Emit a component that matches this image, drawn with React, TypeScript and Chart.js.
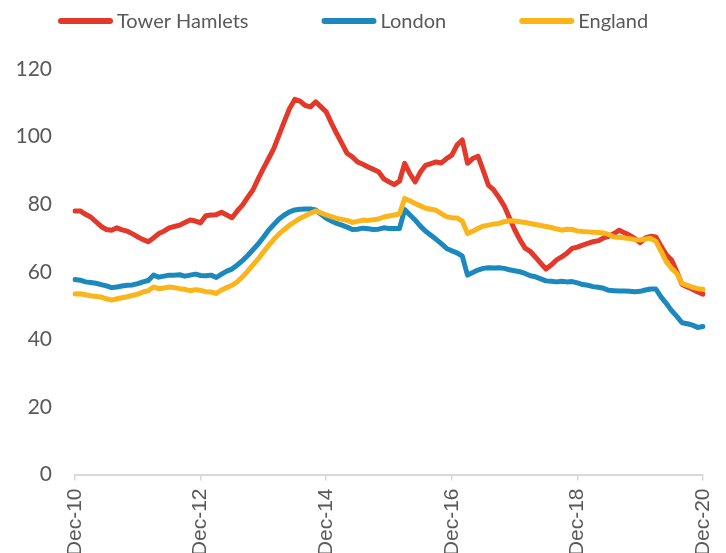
import React, { useEffect, useRef } from 'react';
import { Chart, registerables } from 'chart.js';

Chart.register(...registerables);

const MONTH_NAMES = ['Jan', 'Feb', 'Mar', 'Apr', 'May', 'Jun', 'Jul', 'Aug', 'Sep', 'Oct', 'Nov', 'Dec'];

// Monthly categories Dec-10 .. Dec-20
const CATEGORIES: string[] = (() => {
  const out: string[] = [];
  for (let i = 0; i <= 120; i++) {
    const m = (11 + i) % 12;
    const y = 10 + Math.floor((11 + i) / 12);
    out.push(`${MONTH_NAMES[m]}-${String(y).padStart(2, '0')}`);
  }
  return out;
})();

const TICK_LABELS = ['Dec-10', 'Dec-12', 'Dec-14', 'Dec-16', 'Dec-18', 'Dec-20'];
const Y_TICKS = [0, 20, 40, 60, 80, 100, 120];

const SERIES_NAMES = ['Tower Hamlets', 'London', 'England'];

const TOWER_HAMLETS = [
  78.0, 78.0, 77.0, 76.2, 74.8, 73.4, 72.5, 72.3, 73.0, 72.4,
  72.0, 71.2, 70.3, 69.5, 68.9, 70.0, 71.3, 72.0, 73.0, 73.4,
  73.8, 74.6, 75.3, 75.0, 74.5, 76.6, 76.8, 76.9, 77.6, 76.8,
  76.0, 78.0, 79.7, 82.0, 84.2, 87.5, 90.6, 93.5, 96.5, 100.5,
  104.5, 108.3, 111.0, 110.5, 109.2, 108.8, 110.3, 108.8, 107.3, 104.0,
  100.9, 98.0, 95.0, 94.0, 92.5, 91.8, 91.0, 90.3, 89.6, 87.5,
  86.6, 85.8, 86.8, 92.1, 89.0, 86.6, 89.5, 91.5, 92.0, 92.5,
  92.2, 93.5, 94.5, 97.5, 99.0, 92.1, 93.5, 94.2, 90.0, 85.6,
  84.2, 82.0, 79.5, 76.0, 72.5, 69.5, 67.0, 66.0, 64.3, 62.5,
  60.8, 62.0, 63.5, 64.4, 65.5, 66.9, 67.3, 67.9, 68.4, 68.9,
  69.2, 70.0, 70.5, 71.3, 72.3, 71.5, 70.8, 69.8, 68.6, 70.0,
  70.5, 70.3, 67.5, 65.0, 63.5, 60.0, 56.2, 55.5, 54.8, 54.0,
  53.4,
];

const LONDON = [
  57.7, 57.5, 57.0, 56.8, 56.6, 56.2, 55.8, 55.3, 55.5, 55.8,
  56.0, 56.1, 56.5, 57.0, 57.4, 59.0, 58.4, 58.7, 59.0, 59.0,
  59.1, 58.7, 59.0, 59.3, 58.9, 58.8, 59.0, 58.3, 59.3, 60.2,
  60.8, 62.0, 63.3, 64.8, 66.5, 68.2, 70.2, 72.3, 74.0, 75.6,
  76.8, 77.7, 78.3, 78.5, 78.6, 78.6, 78.3, 77.0, 75.8, 75.0,
  74.3, 73.8, 73.2, 72.5, 72.6, 72.9, 72.7, 72.5, 72.6, 73.0,
  72.8, 72.8, 72.8, 78.4, 76.8, 75.3, 73.5, 72.0, 70.8, 69.6,
  68.3, 66.9, 66.2, 65.6, 64.6, 59.0, 59.8, 60.5, 61.0, 61.2,
  61.1, 61.2, 61.0, 60.6, 60.3, 60.0, 59.5, 58.8, 58.5, 57.9,
  57.3, 57.2, 57.0, 57.2, 57.0, 57.1, 56.7, 56.2, 56.0, 55.6,
  55.4, 55.1, 54.5, 54.4, 54.3, 54.3, 54.2, 54.1, 54.2, 54.6,
  54.9, 54.9, 52.5, 50.6, 48.5, 46.8, 44.9, 44.6, 44.2, 43.5,
  43.8,
];

const ENGLAND = [
  53.4, 53.5, 53.2, 52.9, 52.7, 52.5, 52.0, 51.6, 52.0, 52.3,
  52.6, 53.0, 53.4, 54.0, 54.4, 55.5, 55.0, 55.2, 55.5, 55.3,
  55.0, 54.8, 54.4, 54.7, 54.5, 54.1, 54.0, 53.6, 54.6, 55.3,
  56.0, 57.0, 58.5, 60.2, 62.0, 63.8, 65.8, 67.8, 69.6, 71.2,
  72.5, 73.8, 74.8, 75.8, 76.6, 77.3, 78.0, 77.4, 76.8, 76.3,
  75.8, 75.5, 75.2, 74.6, 74.9, 75.3, 75.2, 75.4, 75.6, 76.2,
  76.5, 76.8, 77.1, 81.7, 81.0, 80.2, 79.5, 78.8, 78.5, 78.2,
  77.2, 76.3, 76.0, 75.9, 75.0, 71.3, 72.0, 72.8, 73.5, 73.8,
  74.1, 74.3, 74.8, 75.1, 75.0, 74.8, 74.6, 74.3, 74.0, 73.7,
  73.4, 73.1, 72.7, 72.3, 72.6, 72.5, 72.1, 71.9, 71.8, 71.7,
  71.6, 71.5, 71.0, 70.3, 70.2, 70.0, 69.8, 69.5, 69.4, 69.7,
  69.9, 69.0, 66.0, 62.9, 61.0, 59.5, 56.5, 56.0, 55.4, 55.0,
  54.8,
];

const COLORS = ['#E3392A', '#1B88BE', '#FBB41A'];
const TEXT_COLOR = '#595959';
const AXIS_COLOR = '#D9D9D9';

const legendPlugin = {
  id: 'customLegend',
  afterDraw(chart: any) {
    const ctx = chart.ctx as CanvasRenderingContext2D;
    ctx.save();
    ctx.font = '20px Lato';
    ctx.textBaseline = 'middle';
    ctx.textAlign = 'left';
    let x = 58;
    const y = 21;
    chart.data.datasets.forEach((ds: any) => {
      ctx.strokeStyle = ds.borderColor;
      ctx.lineWidth = 6;
      ctx.lineCap = 'round';
      ctx.beginPath();
      ctx.moveTo(x + 3, y);
      ctx.lineTo(x + 52, y);
      ctx.stroke();
      ctx.fillStyle = TEXT_COLOR;
      ctx.fillText(ds.label, x + 59, y + 1);
      x += 59 + ctx.measureText(ds.label).width + 73;
    });
    ctx.restore();
  },
};

export default function App() {
  const canvasRef = useRef<HTMLCanvasElement | null>(null);

  useEffect(() => {
    if (!canvasRef.current) return;
    const seriesValues = [TOWER_HAMLETS, LONDON, ENGLAND];
    const drawOrder = [3, 2, 1];
    const chart = new Chart(canvasRef.current, {
      type: 'line',
      data: {
        labels: CATEGORIES,
        datasets: SERIES_NAMES.map((name, i) => ({
          label: name,
          data: seriesValues[i],
          borderColor: COLORS[i],
          backgroundColor: COLORS[i],
          borderWidth: 5,
          pointRadius: 0,
          pointHoverRadius: 0,
          tension: 0,
          fill: false,
          borderCapStyle: 'round',
          borderJoinStyle: 'round',
          order: drawOrder[i],
        })),
      },
      options: {
        animation: false,
        responsive: false,
        devicePixelRatio: 1,
        layout: { padding: { top: 69, right: 23, left: 0, bottom: 0 } },
        plugins: {
          legend: { display: false },
          tooltip: { enabled: false },
        },
        scales: {
          x: {
            type: 'category',
            offset: false,
            grid: {
              display: true,
              drawOnChartArea: false,
              drawTicks: true,
              tickLength: 6,
              color: AXIS_COLOR,
              lineWidth: 1.5,
            },
            border: { display: true, color: AXIS_COLOR, width: 2 },
            ticks: {
              autoSkip: false,
              maxRotation: 90,
              minRotation: 90,
              padding: 8,
              color: TEXT_COLOR,
              font: { family: 'Liberation Sans', size: 21 },
              callback: (_v: any, idx: number) => {
                const l = CATEGORIES[idx];
                return TICK_LABELS.includes(l) ? l : null;
              },
            },
            afterFit: (scale: any) => {
              scale.height = 78.5;
              scale.paddingLeft = 0;
              scale.paddingRight = 0;
            },
          },
          y: {
            min: 0,
            max: 120,
            grid: { display: false, drawTicks: false },
            border: { display: false },
            afterBuildTicks: (scale: any) => {
              scale.ticks = Y_TICKS.map((v) => ({ value: v }));
            },
            ticks: {
              padding: 23,
              color: TEXT_COLOR,
              font: { family: 'Lato', size: 21 },
            },
            afterFit: (scale: any) => {
              scale.width = 75;
            },
          },
        },
      },
      plugins: [legendPlugin],
    });
    return () => chart.destroy();
  }, []);

  return (
    <div style={{ position: 'absolute', left: 0, top: 0, width: 726, height: 553, background: '#fff' }}>
      <canvas ref={canvasRef} width={726} height={553} style={{ display: 'block' }} />
    </div>
  );
}
